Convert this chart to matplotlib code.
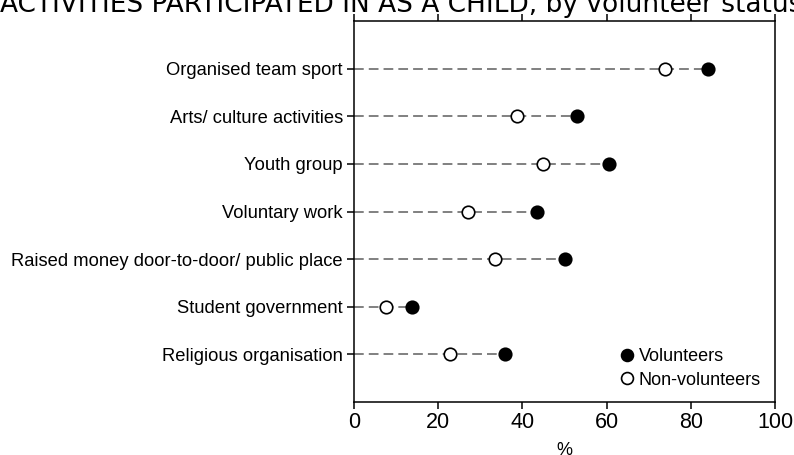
import matplotlib.pyplot as plt

# data (percent)
activities = ['Organised team sport', 'Arts/ culture activities', 'Youth group',
              'Voluntary work', 'Raised money door-to-door/ public place',
              'Student government', 'Religious organisation']
volunteers = [84.0, 53.0, 60.6, 43.4, 50.1, 13.7, 35.9]
non_volunteers = [73.9, 38.8, 45.0, 27.2, 33.4, 7.6, 22.7]
xticks = [0, 20, 40, 60, 80, 100]

plt.rcParams['font.family'] = ['Liberation Sans', 'DejaVu Sans']

fig = plt.figure(figsize=(7.94, 4.55), dpi=100)
ax = fig.add_axes([0.4458, 0.1165, 0.5302, 0.8373])

ypos = list(range(len(activities)))
for y, v, n in zip(ypos, volunteers, non_volunteers):
    ax.plot([0, max(v, n)], [y, y], color='#808080', lw=1.4, ls=(0, (5, 2.6)), zorder=1)

ax.plot(volunteers, ypos, 'o', color='black', ms=9, mec='black', mew=1.2,
        ls='none', zorder=3, label='Volunteers')
ax.plot(non_volunteers, ypos, 'o', color='white', ms=9, mec='black', mew=1.2,
        ls='none', zorder=3, label='Non-volunteers')

ax.set_xlim(0, 100)
ax.set_ylim(len(activities), -1)
ax.set_yticks(ypos)
ax.set_yticklabels(activities, fontsize=13.2)
ax.set_xticks(xticks)
ax.set_xticklabels([str(t) for t in xticks], fontsize=15.5)
ax.tick_params(axis='x', direction='out', length=5, width=1.1, top=True, pad=2)
ax.tick_params(axis='y', direction='out', length=5, width=1.1, pad=3)
for s in ax.spines.values():
    s.set_linewidth(1.1)
ax.set_xlabel('%', fontsize=13, labelpad=7)

ax.legend(loc='lower right', frameon=False, fontsize=13, handletextpad=0.15,
          labelspacing=0.35, markerscale=0.95, handlelength=1.0,
          bbox_to_anchor=(0.984, 0.016), borderaxespad=0)

fig.text(0.0, 0.9736, 'ACTIVITIES PARTICIPATED IN AS A CHILD, by volunteer status',
         fontsize=19, family='DejaVu Sans', va='baseline', ha='left')

fig.savefig('out.png', dpi=100)
